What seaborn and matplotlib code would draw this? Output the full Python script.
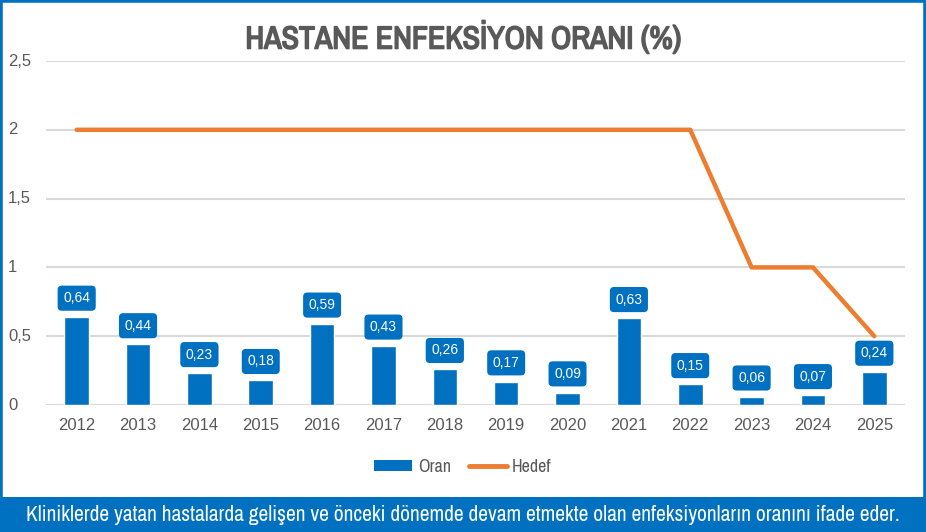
import numpy as np
import pandas as pd
import matplotlib.pyplot as plt
import matplotlib.patheffects as pe
import seaborn as sns
from matplotlib import font_manager
from matplotlib.patches import Rectangle
from matplotlib.lines import Line2D

years = ['2012', '2013', '2014', '2015', '2016', '2017', '2018',
         '2019', '2020', '2021', '2022', '2023', '2024', '2025']
oran = [0.64, 0.44, 0.23, 0.18, 0.59, 0.43, 0.26, 0.17, 0.09, 0.63, 0.15, 0.06, 0.07, 0.24]
hedef = [2, 2, 2, 2, 2, 2, 2, 2, 2, 2, 2, 1, 1, 0.5]
yticks = [0, 0.5, 1, 1.5, 2, 2.5]

blue = '#0070C0'
orange = '#ED7D31'
gray = '#595959'

sns.set_style('white')
names = sorted(set(f.name for f in font_manager.fontManager.ttflist))
cond = [n for n in names if 'Narrow' in n or 'Condensed' in n]
narrow = cond[0] if cond else 'Roboto'
plt.rcParams['font.family'] = ['Liberation Sans', 'DejaVu Sans']

df = pd.DataFrame({'year': years, 'Oran': oran, 'Hedef': hedef})
df['pos'] = np.arange(len(df))

fig = plt.figure(figsize=(9.26, 5.32), dpi=100)
ax = fig.add_axes([46 / 926, 1 - 405 / 532, (905 - 46) / 926, (405 - 61) / 532])

sns.barplot(data=df, x='year', y='Oran', color=blue, width=0.4,
            saturation=1, ax=ax, zorder=3)
sns.lineplot(data=df, x='pos', y='Hedef', color=orange, linewidth=3.2,
             ax=ax, zorder=4, solid_capstyle='round')

ax.set_xlim(-0.5, len(years) - 0.5)
ax.set_ylim(0, 2.5)
ax.set_yticks(yticks)
ax.set_yticklabels([])
ax.set_xticks(df['pos'])
ax.set_xticklabels(years, fontsize=12, color=gray)
ax.tick_params(axis='x', length=0, pad=9)
ax.tick_params(axis='y', length=0)
ax.yaxis.grid(True, color='#D9D9D9', linewidth=1.5, zorder=0)
ax.set_xlabel('')
ax.set_ylabel('')
for s in ax.spines.values():
    s.set_visible(False)

# y tick labels, left aligned near the border
for t in yticks:
    lab = ('%g' % t).replace('.', ',')
    y_fig = ax.transData.transform((0, t))[1] / fig.dpi / 5.32
    fig.text(8 / 926, y_fig, lab, ha='left', va='center', fontsize=12, color=gray)

# data labels
for p, v in zip(df['pos'], oran):
    ax.annotate(('%.2f' % v).replace('.', ','), (p, v), xytext=(0, 13.5),
                textcoords='offset points', ha='center', va='center',
                fontsize=10, color='white', zorder=6,
                bbox=dict(boxstyle='round,pad=0.4,rounding_size=0.3',
                          fc=blue, ec='none'))

fig.canvas.draw()
renderer = fig.canvas.get_renderer()


def fit_text(x, y, s, width_px, size, **kw):
    t = fig.text(x, y, s, fontsize=size, **kw)
    w = t.get_window_extent(renderer).width
    t.set_fontsize(size * width_px / w)
    return t


title = fit_text(0.5, 1 - 37 / 532, 'HASTANE ENFEKSİYON ORANI (%)', 436, 19, ha='center',
                 va='center', fontweight='bold', color=gray,
                 family=[narrow, 'DejaVu Sans'])
title.set_path_effects([pe.withStroke(linewidth=1.2, foreground=gray)])

handles = [Rectangle((0, 0), 1, 1, fc=blue, ec='none'),
           Line2D([0], [0], color=orange, linewidth=3.5, solid_capstyle='round')]
fig.legend(handles, ['Oran', 'Hedef'], loc='center', bbox_to_anchor=(0.5, 1 - 467 / 532),
           ncol=2, frameon=False, labelcolor=gray, handlelength=2.1,
           handleheight=0.6, columnspacing=1.0, handletextpad=0.3,
           prop={'family': [narrow, 'DejaVu Sans'], 'size': 13})

# border and footer band
fig.patches.append(Rectangle((0, 0), 1, 1, transform=fig.transFigure, fill=False,
                             ec=blue, lw=4, zorder=10))
fig.patches.append(Rectangle((0, 0), 1, 35 / 532, transform=fig.transFigure,
                             fc=blue, ec='none', zorder=10))
fit_text(0.5, 17 / 532, 'Kliniklerde yatan hastalarda gelişen ve önceki dönemde devam etmekte '
         'olan enfeksiyonların oranını ifade eder.', 880, 13, ha='center', va='center',
         color='white', zorder=11, family=[narrow, 'DejaVu Sans'])

fig.savefig('out.png', dpi=100)
